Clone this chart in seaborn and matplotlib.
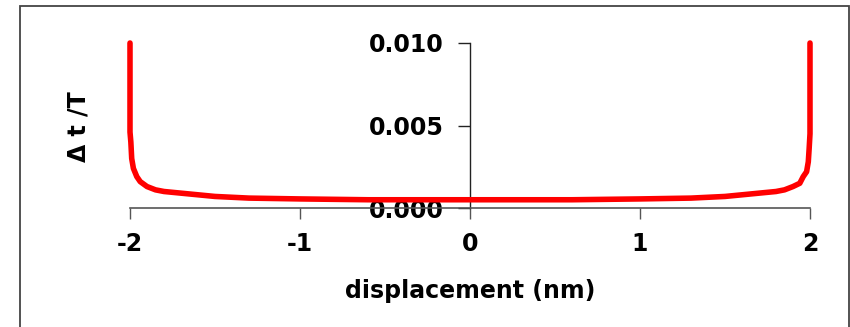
import matplotlib
matplotlib.use("Agg")
import matplotlib.pyplot as plt
import seaborn as sns
import pandas as pd
from matplotlib.patches import Rectangle

# Data
displacement = [-2.0, -2.0, -1.995, -1.99, -1.98, -1.96, -1.94, -1.90, -1.85, -1.80,
                -1.70, -1.60, -1.50, -1.30, -1.00, -0.60, 0.0,
                0.60, 1.00, 1.30, 1.50, 1.60, 1.70, 1.80, 1.85, 1.90, 1.94,
                1.96, 1.98, 1.99, 1.995, 2.0, 2.0]
dt_over_T = [0.0100, 0.0046, 0.0040, 0.0030, 0.0024, 0.0019, 0.0016, 0.0013, 0.0011, 0.0010,
             0.0009, 0.0008, 0.0007, 0.0006, 0.00055, 0.0005, 0.0005,
             0.0005, 0.00055, 0.0006, 0.0007, 0.0008, 0.0009, 0.0010, 0.0011, 0.0013, 0.0015,
             0.0019, 0.0022, 0.0028, 0.0036, 0.0045, 0.0100]
x_ticks = [-2, -1, 0, 1, 2]
x_tick_labels = ["-2", "-1", "0", "1", "2"]
y_ticks = [0.0, 0.005, 0.010]
y_tick_labels = ["0.000", "0.005", "0.010"]

df = pd.DataFrame({"x": displacement, "y": dt_over_T})

sns.set_style("white")
plt.rcParams["font.family"] = ["DejaVu Sans"]
plt.rcParams["font.weight"] = "bold"
plt.rcParams["text.color"] = "black"
plt.rcParams["xtick.color"] = "black"
plt.rcParams["ytick.color"] = "black"

fig = plt.figure(figsize=(8.5, 3.27), dpi=100)
ax = fig.add_axes([130 / 850, 1 - 208 / 327, 680 / 850, 165 / 327])

sns.lineplot(data=df, x="x", y="y", sort=False, estimator=None, color="#ff0000",
             linewidth=4, ax=ax, clip_on=False, zorder=3)

ax.set_xlim(-2, 2)
ax.set_ylim(0, 0.010)
ax.set_axisbelow(True)

ax.spines["top"].set_visible(False)
ax.spines["right"].set_visible(False)
ax.spines["left"].set_position(("data", 0))
ax.spines["left"].set_color("#222222")
ax.spines["left"].set_linewidth(1.0)
ax.spines["bottom"].set_color("#555555")
ax.spines["bottom"].set_linewidth(1.2)

ax.set_xticks(x_ticks)
ax.set_xticklabels(x_tick_labels, fontsize=17, fontweight="bold", color="black")
ax.set_yticks(y_ticks)
ax.set_yticklabels(y_tick_labels, fontsize=17, fontweight="bold", color="black")
ax.tick_params(axis="x", direction="out", length=8, width=1.0, color="#555555", pad=9, bottom=True)
ax.tick_params(axis="y", direction="out", length=9, width=1.0, color="#222222", pad=10, left=True)

ax.set_xlabel("displacement (nm)", fontsize=17, fontweight="bold", labelpad=17, color="black")
ax.set_ylabel("")
fig.text(78 / 850, 1 - 127 / 327, "Δ t /T", rotation=90, fontsize=17, fontweight="bold",
         ha="center", va="center", color="black")

ax.grid(False)

# Figure border
fig.patches.append(Rectangle((20 / 850, -0.05), 829 / 850, 1 - 6 / 327 + 0.05,
                             transform=fig.transFigure, fill=False,
                             edgecolor="#444444", linewidth=1.3))

fig.savefig("out.png", dpi=100)
